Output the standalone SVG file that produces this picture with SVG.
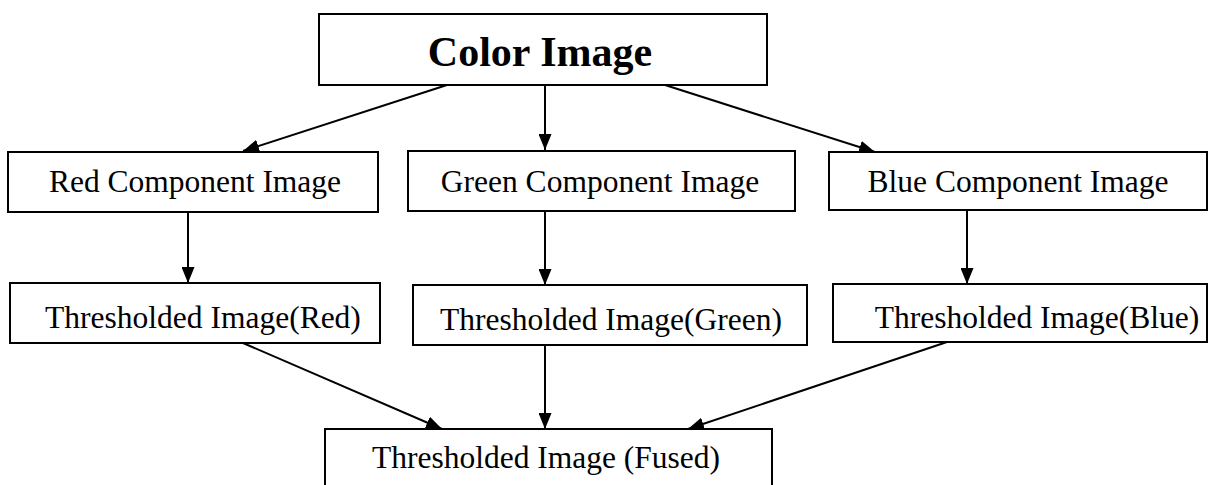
<svg xmlns="http://www.w3.org/2000/svg" width="1211" height="485" viewBox="0 0 1211 485">
  <style>
    .box { fill: #ffffff; stroke: #000000; stroke-width: 2; }
    .lbl { font-family: "Liberation Serif", "Times New Roman", serif; font-size: 31.5px; fill: #000000; text-anchor: middle; }
    .title { font-family: "Liberation Serif", "Times New Roman", serif; font-size: 42px; font-weight: bold; fill: #000000; text-anchor: middle; }
    .edge { stroke: #000000; stroke-width: 2; fill: none; marker-end: url(#arrow); }
  </style>
  <defs>
    <marker id="arrow" markerUnits="userSpaceOnUse" markerWidth="16" markerHeight="13" refX="16" refY="6.5" orient="auto">
      <path d="M0,0 L16,6.5 L0,13 Z" fill="#000000"/>
    </marker>
  </defs>
  <rect width="1211" height="485" fill="#ffffff"/>

  <g id="connectors">
    <line class="edge" x1="447" y1="85" x2="243" y2="151"/>
    <line class="edge" x1="545" y1="85" x2="545" y2="150"/>
    <line class="edge" x1="665" y1="85" x2="875" y2="152"/>
    <line class="edge" x1="188" y1="212" x2="188" y2="283"/>
    <line class="edge" x1="545" y1="211" x2="545" y2="285"/>
    <line class="edge" x1="967" y1="210" x2="967" y2="284"/>
    <line class="edge" x1="243" y1="343" x2="442" y2="429"/>
    <line class="edge" x1="545" y1="345" x2="545" y2="429"/>
    <line class="edge" x1="947" y1="342" x2="688" y2="429"/>
  </g>

  <g id="color-image">
    <rect class="box" x="319" y="14" width="448" height="71"/>
    <text class="title" x="540" y="66">Color Image</text>
  </g>

  <g id="red-component">
    <rect class="box" x="8" y="152" width="370" height="60"/>
    <text class="lbl" x="195" y="192">Red Component Image</text>
  </g>
  <g id="green-component">
    <rect class="box" x="408" y="151" width="387" height="60"/>
    <text class="lbl" x="600" y="192">Green Component Image</text>
  </g>
  <g id="blue-component">
    <rect class="box" x="829" y="152" width="378" height="58"/>
    <text class="lbl" x="1018" y="192">Blue Component Image</text>
  </g>

  <g id="thresholded-red">
    <rect class="box" x="10" y="283" width="370" height="60"/>
    <text class="lbl" x="203" y="328">Thresholded Image(Red)</text>
  </g>
  <g id="thresholded-green">
    <rect class="box" x="413" y="285" width="394" height="60"/>
    <text class="lbl" x="611" y="330">Thresholded Image(Green)</text>
  </g>
  <g id="thresholded-blue">
    <rect class="box" x="833" y="284" width="374" height="58"/>
    <text class="lbl" x="1037" y="328">Thresholded Image(Blue)</text>
  </g>

  <g id="thresholded-fused">
    <rect class="box" x="325" y="429" width="447" height="70"/>
    <text class="lbl" x="546" y="468">Thresholded Image (Fused)</text>
  </g>
</svg>
